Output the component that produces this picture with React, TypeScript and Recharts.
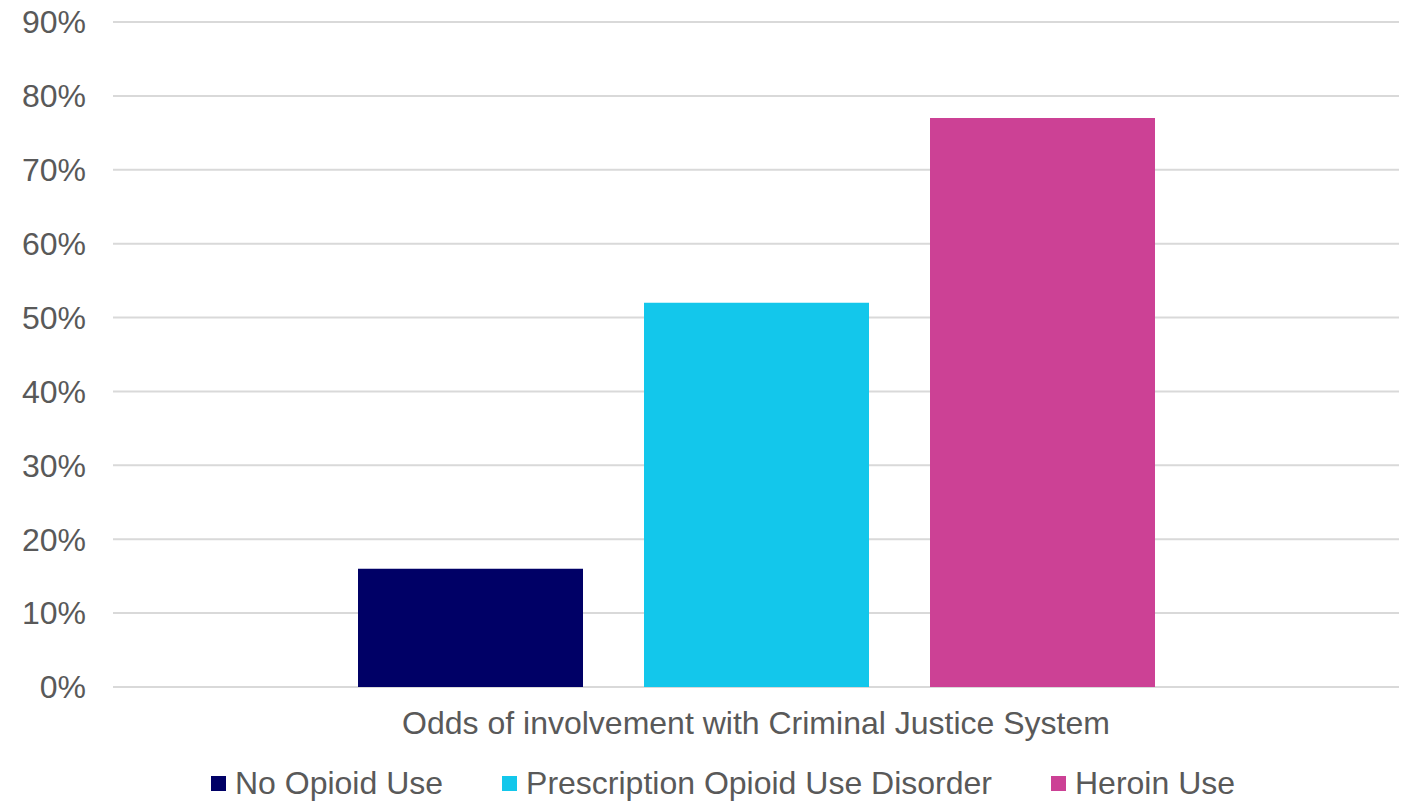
import React from "react";
import { BarChart, Bar, XAxis, YAxis, CartesianGrid, Legend } from "recharts";

const categories = ["Odds of involvement with Criminal Justice System"];
const seriesNames = ["No Opioid Use", "Prescription Opioid Use Disorder", "Heroin Use"];
const noOpioid = [16];
const prescription = [52];
const heroin = [77];
const yTicks = [0, 10, 20, 30, 40, 50, 60, 70, 80, 90];
const colors = ["#000066", "#13C7EB", "#CC4195"];

const data = categories.map((c, i) => ({
  name: c,
  s0: noOpioid[i],
  s1: prescription[i],
  s2: heroin[i],
}));

const FONT = "'Liberation Sans', Arial, sans-serif";
const TEXT = "#595959";

const renderLegend = (props: any) => {
  const { payload } = props;
  const ordered = seriesNames
    .map((n) => payload.find((p: any) => p.value === n))
    .filter(Boolean);
  return (
    <div style={{ display: "flex", justifyContent: "center", alignItems: "center", height: 40, fontFamily: FONT, fontSize: 32, color: TEXT, paddingLeft: 46 }}>
      {ordered.map((p: any, i: number) => (
        <div key={i} style={{ display: "flex", alignItems: "center", marginRight: i < ordered.length - 1 ? 59 : 0 }}>
          <span style={{ display: "inline-block", width: 15, height: 15, background: p.color, marginRight: 9 }} />
          <span>{p.value}</span>
        </div>
      ))}
    </div>
  );
};

export default function App() {
  return (
    <div style={{ position: "absolute", left: 0, top: 0, background: "#fff" }}>
      <BarChart
        width={1404}
        height={803}
        data={data}
        margin={{ top: 22, right: 5, bottom: 0, left: 1 }}
        barGap={61}
      >
        <CartesianGrid vertical={false} stroke="#d9d9d9" strokeWidth={2} />
        <XAxis
          dataKey="name"
          axisLine={false}
          tickLine={false}
          tickMargin={18}
          height={76}
          tick={{ fill: TEXT, fontSize: 32, fontFamily: FONT }}
        />
        <YAxis
          domain={[0, 90]}
          ticks={yTicks}
          width={112}
          axisLine={false}
          tickLine={false}
          tickMargin={21}
          tickFormatter={(v: number) => `${v}%`}
          tick={{ fill: TEXT, fontSize: 32, fontFamily: FONT }}
          interval={0}
        />
        <Legend verticalAlign="bottom" content={renderLegend} wrapperStyle={{ bottom: 0 }} height={40} />
        <Bar dataKey="s0" name={seriesNames[0]} fill={colors[0]} barSize={225} isAnimationActive={false} />
        <Bar dataKey="s1" name={seriesNames[1]} fill={colors[1]} barSize={225} isAnimationActive={false} />
        <Bar dataKey="s2" name={seriesNames[2]} fill={colors[2]} barSize={225} isAnimationActive={false} />
      </BarChart>
    </div>
  );
}
